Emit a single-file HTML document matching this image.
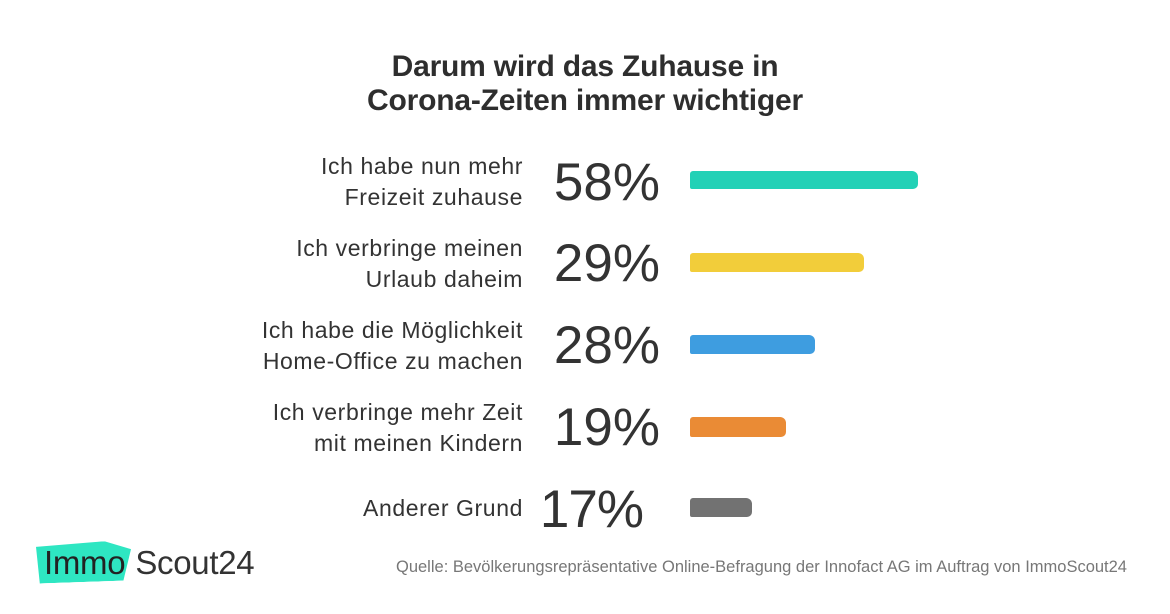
<!DOCTYPE html>
<html><head><meta charset="utf-8"><style>
body{margin:0;width:1170px;height:614px;background:#fff;font-family:"Liberation Sans",sans-serif;color:#333;position:relative;overflow:hidden}
.t{position:absolute;left:0;width:1170px;text-align:center;top:50px;font-size:30px;font-weight:bold;line-height:34px;color:#2e2e2e;letter-spacing:-0.2px}
.l{position:absolute;right:647px;text-align:right;font-size:23px;line-height:31px;color:#333;letter-spacing:0.6px;white-space:nowrap}
.p{position:absolute;right:510px;text-align:right;font-size:53px;line-height:52px;color:#333}
.b{position:absolute;left:690px;border-radius:3px 6px 5px 2px}
.q{position:absolute;right:43px;top:558px;font-size:16.5px;color:#777;white-space:nowrap}
</style></head><body>
<div class="t">Darum wird das Zuhause in<br>Corona-Zeiten immer wichtiger</div>

<div class="l" style="top:151px">Ich habe nun mehr<br>Freizeit zuhause</div>
<div class="p" style="top:157px">58%</div>
<div class="b" style="top:171px;width:228px;height:18px;background:#22d1b6"></div>

<div class="l" style="top:233px">Ich verbringe meinen<br>Urlaub daheim</div>
<div class="p" style="top:238px">29%</div>
<div class="b" style="top:253px;width:174px;height:19px;background:#f2cd3a"></div>

<div class="l" style="top:315px">Ich habe die Möglichkeit<br>Home-Office zu machen</div>
<div class="p" style="top:320px">28%</div>
<div class="b" style="top:335px;width:125px;height:19px;background:#3e9de0"></div>

<div class="l" style="top:397px">Ich verbringe mehr Zeit<br>mit meinen Kindern</div>
<div class="p" style="top:402px">19%</div>
<div class="b" style="top:417px;width:96px;height:20px;background:#ea8b35"></div>

<div class="l" style="top:493px">Anderer Grund</div>
<div class="p" style="top:484px;right:527px;letter-spacing:-1px">17%</div>
<div class="b" style="top:498px;width:62px;height:19px;background:#727272"></div>

<div style="position:absolute;left:36px;top:542px;width:95px;height:40px;background:#2ee6c2;transform:skewY(-2deg);clip-path:polygon(0 8%,72% 0,100% 22%,92% 100%,4% 100%)"></div>
<div style="position:absolute;left:44px;top:544px;font-size:33px;color:#222;letter-spacing:-0.3px">Immo<span style="margin-left:10px;color:#333">Scout24</span></div>
<div class="q">Quelle: Bevölkerungsrepräsentative Online-Befragung der Innofact AG im Auftrag von ImmoScout24</div>
</body></html>
